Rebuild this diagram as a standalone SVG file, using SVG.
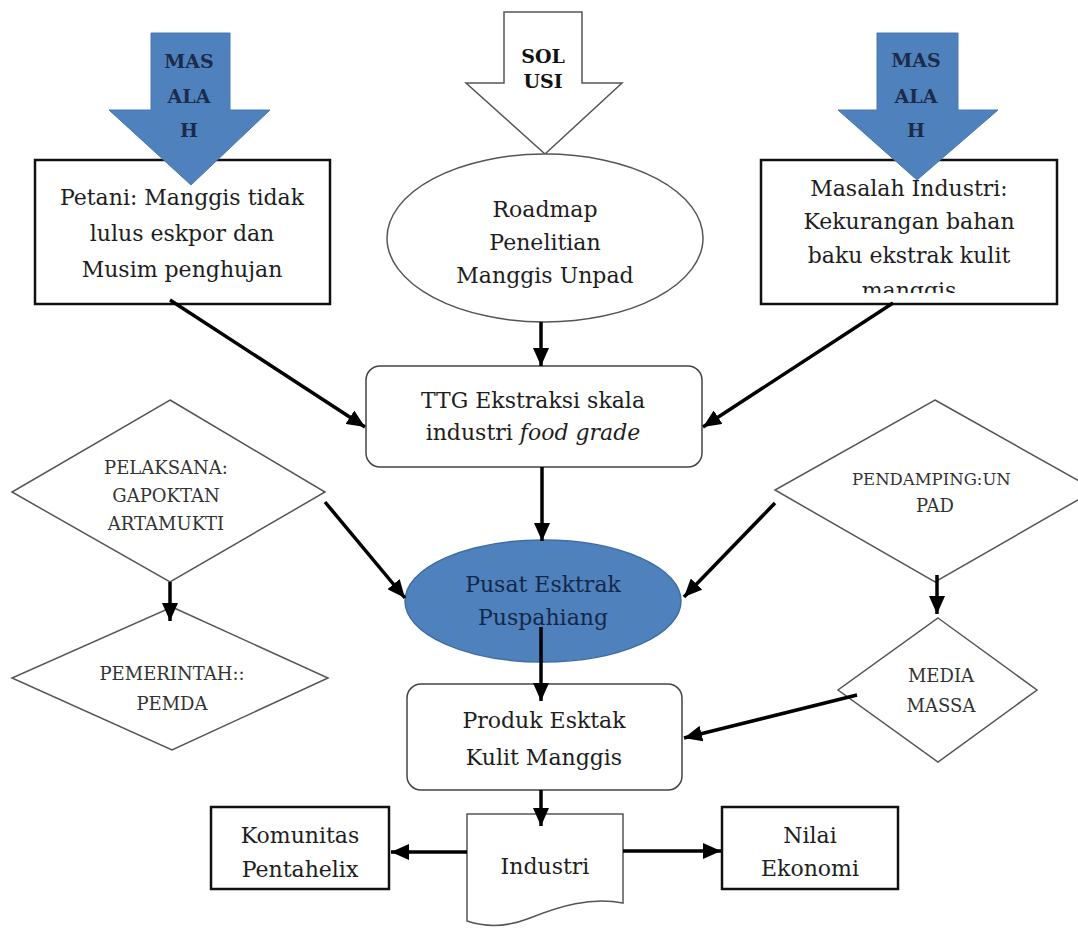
<svg xmlns="http://www.w3.org/2000/svg" width="1078" height="932" viewBox="0 0 1078 932">
<style>
.t{font-family:"DejaVu Serif","Liberation Serif",serif;font-size:22px;fill:#1e1e1e;text-anchor:middle}
.d{font-family:"DejaVu Serif","Liberation Serif",serif;font-size:18px;fill:#333;text-anchor:middle}
.m{font-family:"DejaVu Serif","Liberation Serif",serif;font-size:19px;font-weight:bold;fill:#1c2b4a;text-anchor:middle}
.s{font-family:"DejaVu Serif","Liberation Serif",serif;font-size:19px;font-weight:bold;fill:#111;text-anchor:middle}
.box{fill:#fff;stroke:#111;stroke-width:2.5}
.rbox{fill:#fff;stroke:#444;stroke-width:1.5}
.dia{fill:#fff;stroke:#555;stroke-width:1.5}
.blue{fill:#4f81bd;stroke:#4a78b0;stroke-width:1}
.con{stroke:#000;stroke-width:3.5;fill:none;marker-end:url(#ah)}
</style>
<defs>
<marker id="ah" markerUnits="userSpaceOnUse" markerWidth="20" markerHeight="16" refX="18" refY="8" orient="auto">
<path d="M0,0 L18,8 L0,16 z" fill="#000"/>
</marker>
<clipPath id="clipR"><rect x="761" y="160" width="296" height="133"/></clipPath>
<clipPath id="clipP"><rect x="780" y="450" width="239" height="80"/></clipPath>
</defs>
<rect width="1078" height="932" fill="#fff"/>

<g id="petani">
<rect class="box" x="35" y="160" width="295" height="144"/>
<text class="t" x="182" y="205">Petani: Manggis tidak</text>
<text class="t" x="182" y="241">lulus eskpor dan</text>
<text class="t" x="182" y="277">Musim penghujan</text>
</g>
<g id="masalah-kiri">
<polygon class="blue" points="151,33 230,33 230,110 270,110 191,185 109,110 151,110"/>
<text class="m" x="189" y="68">MAS</text>
<text class="m" x="189" y="103">ALA</text>
<text class="m" x="189" y="137">H</text>
</g>

<g id="masalah-industri">
<rect class="box" x="761" y="160" width="296" height="144"/>
<g clip-path="url(#clipR)">
<text class="t" x="909" y="196">Masalah Industri:</text>
<text class="t" x="909" y="229">Kekurangan bahan</text>
<text class="t" x="909" y="263">baku ekstrak kulit</text>
<text class="t" x="909" y="298">manggis</text>
</g>
</g>
<g id="masalah-kanan">
<polygon class="blue" points="877,33 958,33 958,110 998,110 917,180 838,110 877,110"/>
<text class="m" x="916" y="67">MAS</text>
<text class="m" x="916" y="103">ALA</text>
<text class="m" x="916" y="137">H</text>
</g>

<g id="solusi">
<polygon points="504,12 582,12 582,83 622,83 545,154 466,83 504,83" fill="#fff" stroke="#555" stroke-width="1.5"/>
<text class="s" x="543" y="63">SOL</text>
<text class="s" x="543" y="88">USI</text>
</g>

<g id="roadmap">
<ellipse cx="545" cy="238" rx="158" ry="84" fill="#fff" stroke="#555" stroke-width="1.5"/>
<text class="t" x="545" y="217">Roadmap</text>
<text class="t" x="545" y="250">Penelitian</text>
<text class="t" x="545" y="283">Manggis Unpad</text>
</g>

<g id="ttg">
<rect class="rbox" x="366" y="366" width="336" height="101" rx="14"/>
<text class="t" x="533" y="408">TTG Ekstraksi skala</text>
<text class="t" x="533" y="440">industri <tspan font-style="italic">food grade</tspan></text>
</g>

<g id="pelaksana">
<polygon class="dia" points="170,400 325,492 170,582 12,492"/>
<text class="d" x="166" y="474">PELAKSANA:</text>
<text class="d" x="166" y="502">GAPOKTAN</text>
<text class="d" x="166" y="530">ARTAMUKTI</text>
</g>

<g id="pemerintah">
<polygon class="dia" points="172,607 328,678 172,750 12,678"/>
<text class="d" x="172" y="680">PEMERINTAH::</text>
<text class="d" x="172" y="710">PEMDA</text>
</g>

<g id="pendamping">
<polygon class="dia" points="935,400 1095,490 935,582 775,490"/>
<g clip-path="url(#clipP)">
<text class="d" x="852" y="485" style="text-anchor:start;font-size:16.5px">PENDAMPING:UN</text>
</g>
<text class="d" x="935" y="512">PAD</text>
</g>

<g id="media-massa">
<polygon class="dia" points="938,618 1037,690 938,762 838,690"/>
<text class="d" x="941" y="682">MEDIA</text>
<text class="d" x="941" y="712">MASSA</text>
</g>

<g id="pusat">
<ellipse cx="543" cy="601" rx="138" ry="61" fill="#4f81bd" stroke="#3f6ea5" stroke-width="1.5"/>
<text class="t" x="543" y="592" style="fill:#14284b">Pusat Esktrak</text>
<text class="t" x="543" y="625" style="fill:#14284b">Puspahiang</text>
</g>

<g id="produk">
<rect class="rbox" x="407" y="684" width="275" height="106" rx="14"/>
<text class="t" x="544" y="728">Produk Esktak</text>
<text class="t" x="544" y="765">Kulit Manggis</text>
</g>

<g id="industri">
<path d="M467,814 H623 V903 C590,897 560,906 530,918 C505,928 485,927 467,921 Z" fill="#fff" stroke="#555" stroke-width="1.5"/>
<text class="t" x="545" y="874">Industri</text>
</g>

<g id="komunitas">
<rect class="box" x="211" y="807" width="178" height="82"/>
<text class="t" x="300" y="843">Komunitas</text>
<text class="t" x="300" y="877">Pentahelix</text>
</g>

<g id="nilai">
<rect class="box" x="722" y="807" width="176" height="82"/>
<text class="t" x="810" y="843">Nilai</text>
<text class="t" x="810" y="876">Ekonomi</text>
</g>

<g id="connectors">
<line class="con" x1="170" y1="300" x2="365" y2="427"/>
<line class="con" x1="893" y1="303" x2="703" y2="427"/>
<line class="con" x1="541" y1="322" x2="541" y2="366"/>
<line class="con" x1="542" y1="467" x2="542" y2="541"/>
<line class="con" x1="325" y1="502" x2="405" y2="598"/>
<line class="con" x1="775" y1="503" x2="684" y2="597"/>
<line class="con" x1="170" y1="582" x2="170" y2="621"/>
<line class="con" x1="937" y1="575" x2="937" y2="614"/>
<line class="con" x1="541" y1="627" x2="541" y2="701"/>
<line class="con" x1="857" y1="695" x2="684" y2="738"/>
<line class="con" x1="541" y1="790" x2="541" y2="826"/>
<line class="con" x1="467" y1="852" x2="391" y2="852"/>
<line class="con" x1="623" y1="851" x2="721" y2="851"/>
</g>
</svg>
